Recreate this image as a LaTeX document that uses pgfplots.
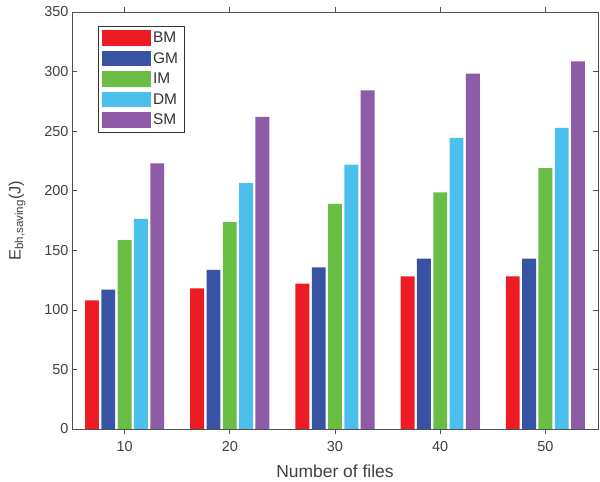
\documentclass[border=0pt]{standalone}
\usepackage{pgfplots}
\pgfplotsset{compat=1.18}
\usepackage{fontspec}
\setmainfont{Liberation Sans}
\definecolor{cBM}{HTML}{ED1C24}
\definecolor{cGM}{HTML}{3953A4}
\definecolor{cIM}{HTML}{6ABD45}
\definecolor{cDM}{HTML}{4CC0ED}
\definecolor{cSM}{HTML}{8E5BA7}
\definecolor{axc}{HTML}{505050}
\begin{document}
\begin{tikzpicture}
\begin{axis}[
  scale only axis,
  width=526bp, height=417bp,
  xmin=5, xmax=55, ymin=0, ymax=350,
  xtick={10,20,30,40,50},
  ytick={0,50,...,350},
  tick align=inside,
  major tick length=5bp,
  axis line style={axc, line width=0.7pt},
  every tick/.style={axc, line width=0.7pt},
  tick label style={font=\fontsize{14.5}{16}\selectfont, text=black!75},
  xticklabel style={yshift=-4bp},
  /pgf/number format/assume math mode=true,
  xlabel={Number of files},
  ylabel={E\textsubscript{bh,saving}(J)},
  label style={font=\fontsize{17.5}{19}\selectfont, text=black!75},
  xlabel style={yshift=-6bp},
  ylabel style={yshift=12bp, font=\fontsize{16.5}{18}\selectfont},
  ybar, bar width=1.32,
  legend style={at={(0.049,0.967)}, anchor=north west, draw=black!80, line width=0.6pt,
    font=\fontsize{15.5}{17}\selectfont, text=black!80, row sep=4.3bp, inner xsep=4bp, inner ysep=4bp},
  legend cell align=left,
  legend image code/.code={\fill[#1] (0bp,-7.8bp) rectangle (49bp,7.8bp);},
]
\addplot[fill=cBM, draw=none, bar shift=-3.1] coordinates {(10,108) (20,118) (30,122) (40,128) (50,128)};
\addplot[fill=cGM, draw=none, bar shift=-1.55] coordinates {(10,117) (20,133.5) (30,135.7) (40,143) (50,143)};
\addplot[fill=cIM, draw=none, bar shift=0] coordinates {(10,158.5) (20,173.7) (30,189) (40,198.6) (50,219)};
\addplot[fill=cDM, draw=none, bar shift=1.55] coordinates {(10,176.3) (20,206.3) (30,221.8) (40,244.4) (50,252.8)};
\addplot[fill=cSM, draw=none, bar shift=3.1] coordinates {(10,223) (20,262) (30,284.3) (40,298.2) (50,308.5)};
\legend{BM,GM,IM,DM,SM}
\end{axis}
\pgfresetboundingbox
\useasboundingbox ([xshift=-72bp,yshift=-53bp]current axis.south west) rectangle ([xshift=2bp,yshift=12bp]current axis.north east);
\end{tikzpicture}
\end{document}
